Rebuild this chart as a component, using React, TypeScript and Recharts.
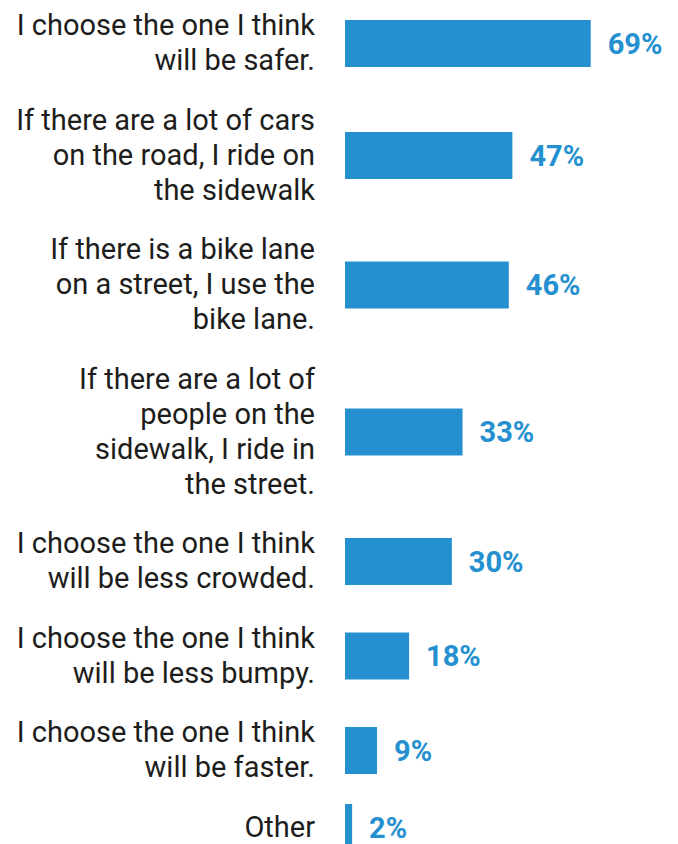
import { Bar, BarChart, LabelList, XAxis, YAxis } from "recharts";

// answer text, one entry per line as printed
const labels: string[][] = [
  ["I choose the one I think", "will be safer."],
  ["If there are a lot of cars", "on the road, I ride on", "the sidewalk"],
  ["If there is a bike lane", "on a street, I use the", "bike lane."],
  ["If there are a lot of", "people on the", "sidewalk, I ride in", "the street."],
  ["I choose the one I think", "will be less crowded."],
  ["I choose the one I think", "will be less bumpy."],
  ["I choose the one I think", "will be faster."],
  ["Other"],
];
const values = [69, 47, 46, 33, 30, 18, 9, 2];

const BLUE = "#2590d0";
const TEXT = "#1d1d1b";
const FONT = "Roboto, 'Liberation Sans', sans-serif";

const W = 678;
const H = 870;
const LINE_PX = 35; // one text line
const ROW_PAD = 0.7; // space between rows, in text lines
const START = 0.107; // first visible unit at the top edge

// rows are as tall as their labels, so place each one by its line count
const centers: number[] = [];
let acc = 0;
labels.forEach((lines) => {
  const h = lines.length + ROW_PAD;
  centers.push(acc + h / 2);
  acc += h;
});

const rows = labels.map((lines, i) => ({
  lines,
  value: values[i],
  pos: centers[i],
}));

function RowTick(props: any) {
  const { x, y, payload } = props;
  const row = rows.find((r) => Math.abs(r.pos - payload.value) < 1e-6);
  if (!row) return null;
  const n = row.lines.length;
  const first = -((n - 1) / 2) * LINE_PX + 9;
  return (
    <text x={x} y={y} textAnchor="end" fill={TEXT} fontSize={29} fontFamily={FONT}>
      {row.lines.map((l, i) => (
        <tspan key={i} x={x} dy={i === 0 ? first : LINE_PX}>
          {l}
        </tspan>
      ))}
    </text>
  );
}

export default function App() {
  return (
    <div
      style={{
        position: "absolute",
        left: 0,
        top: 0,
        width: W,
        height: 844,
        overflow: "hidden",
        background: "#fff",
        fontFamily: FONT,
      }}
    >
      <BarChart
        width={W}
        height={H}
        data={rows}
        layout="vertical"
        margin={{ top: 0, right: 0, bottom: 0, left: 0 }}
      >
        <XAxis type="number" scale="linear" domain={[0, 93.5]} hide />
        <YAxis
          type="number"
          scale="linear"
          dataKey="pos"
          domain={[START, START + H / LINE_PX]}
          allowDataOverflow
          ticks={centers}
          interval={0}
          width={345}
          axisLine={false}
          tickLine={false}
          tickSize={0}
          tickMargin={30}
          tick={<RowTick />}
        />
        <Bar dataKey="value" fill={BLUE} barSize={47} isAnimationActive={false}>
          <LabelList
            dataKey="value"
            position="right"
            offset={17}
            formatter={(v: any) => `${v}%`}
            fill={BLUE}
            fontSize={29}
            fontWeight="bold"
            fontFamily={FONT}
          />
        </Bar>
      </BarChart>
    </div>
  );
}
